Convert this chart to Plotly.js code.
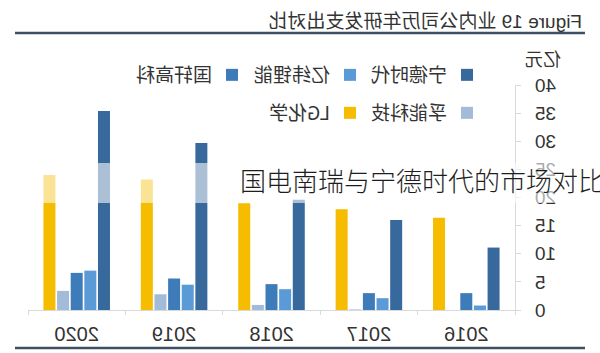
<!DOCTYPE html>
<html>
<head>
<meta charset="utf-8">
<script src="https://cdn.plot.ly/plotly-3.0.1.min.js"></script>
<style>
  html, body { margin: 0; padding: 0; background: #ffffff; overflow: hidden; }
  #wrap { position: relative; width: 600px; height: 353px; overflow: hidden; }
  #chart { position: absolute; left: 0; top: 0; width: 600px; height: 353px; transform: scaleX(-1); transform-origin: 300px 0; }
  #band { position: absolute; left: 0; top: 163px; width: 600px; height: 40px; background: rgba(255,255,255,0.58); }
  #overlay { position: absolute; left: 240px; top: 167px; font-family: "Noto Sans CJK SC", sans-serif; font-weight: 300; font-size: 26px; line-height: 26px; color: #1e1e1e; white-space: nowrap; }
</style>
</head>
<body>
<div id="wrap">
  <div id="chart"></div>
  <div id="band"></div>
  <div id="overlay">国电南瑞与宁德时代的市场对比</div>
</div>
<script>
// Data (亿元)
var years = ['2016', '2017', '2018', '2019', '2020'];
var seriesNames = ['宁德时代', '亿纬锂能', '国轩高科', '孚能科技', 'LG化学'];
var catl = [11.1, 16.0, 19.6, 29.7, 35.4];
var eve = [0.8, 2.1, 3.7, 4.5, 7.0];
var gotion = [3.0, 3.0, 4.6, 5.6, 6.6];
var farasis = [null, 0.1, 0.9, 2.8, 3.4];
var lgchem = [16.4, 17.9, 19.0, 23.2, 24.0];
var yTicks = [0, 5, 10, 15, 20, 25, 30, 35, 40];

var colors = ['#38699c', '#5a9ad6', '#3e7cb9', '#a2bbd9', '#f5bc00'];
var values = [catl, eve, gotion, farasis, lgchem];
var legendIds = ['legend', 'legend2', 'legend3', 'legend4', 'legend5'];
// legend text start (px, unmirrored) and row centre (px)
var legendTextX = [153, 270, 388, 153, 270];
var legendRowY = [75, 75, 75, 113, 113];

var traces = values.map(function (v, i) {
  return {
    type: 'bar',
    name: seriesNames[i],
    x: years,
    y: v,
    marker: { color: colors[i], line: { width: 0 } },
    legend: legendIds[i],
    hoverinfo: 'skip'
  };
});

var fontFam = 'Liberation Sans, Arial, Noto Sans CJK SC, sans-serif';
var cjkFam = 'Noto Sans CJK SC, Liberation Sans, sans-serif';
var M = { l: 85, r: 28, t: 85, b: 43 };
var plotW = 600 - M.l - M.r, plotH = 353 - M.t - M.b;

var layout = {
  width: 600,
  height: 353,
  margin: M,
  paper_bgcolor: '#ffffff',
  plot_bgcolor: '#ffffff',
  barmode: 'group',
  bargap: 0.3,
  bargroupgap: 0.12,
  showlegend: true,
  title: {
    text: 'Figure 19 业内公司历年研发支出对比',
    x: 0.03, xref: 'container', xanchor: 'left',
    y: 0.94, yref: 'container', yanchor: 'middle',
    font: { family: fontFam, size: 19, color: '#333333' }
  },
  xaxis: {
    type: 'category',
    categoryorder: 'array',
    categoryarray: years,
    range: [-0.5, 4.5],
    showline: true, linecolor: '#d9d9d9', linewidth: 1,
    ticks: 'outside', tickson: 'boundaries', ticklen: 4, tickcolor: '#d9d9d9',
    showgrid: false, zeroline: false,
    ticklabelstandoff: 6,
    tickfont: { family: fontFam, size: 20, color: '#333333' }
  },
  yaxis: {
    range: [0, 40],
    tickvals: yTicks,
    ticktext: yTicks.map(String),
    showline: true, linecolor: '#d9d9d9', linewidth: 1,
    ticks: 'outside', ticklen: 5, tickcolor: '#d9d9d9',
    showgrid: false, zeroline: false,
    ticklabelstandoff: 10,
    tickfont: { family: fontFam, size: 19, color: '#333333' }
  },
  annotations: [
    {
      text: '亿元', xref: 'paper', yref: 'paper',
      x: -0.0575, y: 1.12, xanchor: 'center', yanchor: 'middle',
      showarrow: false,
      font: { family: cjkFam, size: 18, color: '#333333' }
    }
  ],
  shapes: [
    {
      type: 'line', xref: 'paper', yref: 'paper',
      x0: -0.1437, x1: 1.0267, y0: 1.231, y1: 1.231,
      line: { color: '#3f4f63', width: 2.5 }
    },
    {
      type: 'line', xref: 'paper', yref: 'paper',
      x0: -0.1437, x1: 1.0267, y0: -0.169, y1: -0.169,
      line: { color: '#3f4f63', width: 2.5 }
    }
  ]
};

legendIds.forEach(function (id, i) {
  layout[id] = {
    orientation: 'h',
    xref: 'paper', yref: 'paper',
    x: (legendTextX[i] - 40 - M.l) / plotW, xanchor: 'left',
    y: (353 - M.b - legendRowY[i]) / plotH, yanchor: 'middle',
    bgcolor: 'rgba(0,0,0,0)',
    font: { family: cjkFam, size: 19, color: '#333333' }
  };
});

Plotly.newPlot('chart', traces, layout, { staticPlot: true, displayModeBar: false });
</script>
</body>
</html>
